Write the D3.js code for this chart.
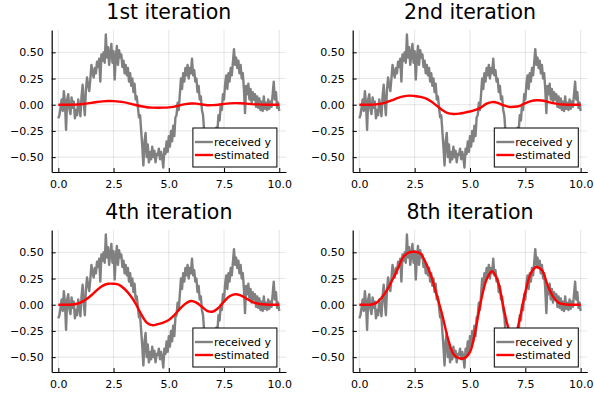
<!DOCTYPE html>
<html><head><meta charset="utf-8">
<script src="https://cdn.jsdelivr.net/npm/d3@7"></script>
<style>body{margin:0;background:#fff}svg{display:block}</style>
</head><body>
<script>
// received (noisy) signal, x = 0..10 step 0.05
const receivedY = [
-0.13,-0.10,-0.03,0.05,-0.06,0.13,0.02,-0.24,0.05,0.10,
-0.04,-0.09,0.07,-0.03,0.03,-0.13,-0.05,-0.10,0.05,-0.02,
-0.11,0.08,0.19,0.02,-0.10,0.15,0.26,0.18,0.13,0.25,
0.38,0.30,0.26,0.35,0.30,0.41,0.36,0.44,0.22,0.48,
0.42,0.50,0.40,0.67,0.45,0.55,0.38,0.48,0.58,0.40,
0.51,0.24,0.45,0.56,0.38,0.52,0.45,0.48,0.36,0.42,
0.30,0.38,0.28,0.35,0.22,0.30,0.18,0.25,0.12,0.20,
0.05,0.08,-0.02,-0.12,-0.10,-0.25,-0.40,-0.58,-0.35,-0.27,
-0.50,-0.38,-0.55,-0.45,-0.52,-0.40,-0.50,-0.44,-0.55,-0.47,
-0.48,-0.42,-0.52,-0.45,-0.50,-0.60,-0.42,-0.47,-0.35,-0.45,
-0.30,-0.40,-0.25,-0.35,-0.20,-0.30,-0.12,-0.10,0.02,-0.05,
0.10,0.25,0.15,0.30,0.22,0.35,0.28,0.38,0.25,0.35,
0.30,0.44,0.28,0.33,0.22,0.25,0.12,0.18,0.05,0.08,
-0.05,-0.10,-0.25,-0.30,-0.38,-0.32,-0.42,-0.35,-0.40,-0.30,
-0.38,-0.28,-0.32,-0.22,-0.25,-0.10,-0.15,0.00,-0.05,0.10,
0.05,0.20,0.28,0.15,0.30,0.22,0.35,0.28,0.40,0.53,
0.38,0.45,0.35,0.42,0.30,0.38,0.25,0.30,0.15,-0.08,
0.18,0.10,0.20,0.05,0.15,0.02,0.12,0.05,0.10,-0.02,
0.08,-0.03,0.06,-0.05,0.03,-0.06,0.08,-0.04,0.02,-0.05,
0.05,-0.04,0.03,-0.02,0.10,0.22,0.05,0.12,-0.03,0.02,
-0.06];
// estimates, x = 0..10 step 0.25
const est1 = [0,0,0,0.001,0.004,0.01,0.018,0.026,0.032,0.035,0.034,0.03,0.022,0.01,-0.003,-0.015,-0.024,-0.028,-0.029,-0.028,-0.025,-0.018,-0.006,0.006,0.012,0.01,0.002,-0.005,-0.004,0,0.008,0.013,0.015,0.014,0.01,0.006,0.003,0.001,0,0,0];
const est2 = [0,0,0,0.003,0.01,0.025,0.045,0.065,0.08,0.087,0.083,0.075,0.06,0.03,-0.01,-0.05,-0.08,-0.088,-0.085,-0.075,-0.065,-0.05,-0.025,0.01,0.025,0.018,-0.005,-0.02,-0.02,-0.01,0.015,0.035,0.043,0.04,0.028,0.015,0.006,0.002,0,0,0];
const est4 = [0,0,0,0.005,0.02,0.05,0.09,0.14,0.18,0.2,0.2,0.19,0.15,0.09,0.01,-0.09,-0.17,-0.195,-0.185,-0.17,-0.145,-0.1,-0.04,0.01,0.035,0.02,-0.02,-0.06,-0.065,-0.03,0.03,0.08,0.1,0.09,0.06,0.03,0.012,0.004,0,0,0];
const est8 = [0,0,0,0.015,0.065,0.14,0.24,0.35,0.46,0.5,0.505,0.49,0.40,0.27,0.09,-0.1,-0.32,-0.47,-0.51,-0.51,-0.45,-0.24,0.04,0.24,0.32,0.23,-0.01,-0.23,-0.32,-0.13,0.12,0.3,0.36,0.33,0.19,0.08,0.02,0.005,0,0,0];
const titles = ["1st iteration","2nd iteration","4th iteration","8th iteration"];
const legendLabels = ["received y","estimated"];
const xTicks = [0,2.5,5,7.5,10];
const yTicks = [-0.5,-0.25,0,0.25,0.5];

const W=594,H=395;
const svg=d3.select("body").append("svg").attr("width",W).attr("height",H)
  .style("font-family","'DejaVu Sans', sans-serif");
const estimates=[est1,est2,est4,est8];
const panels=[{l:51.7,r:285.9,t:30,b:172},{l:352.7,r:587.3,t:30,b:172},
              {l:51.7,r:285.9,t:230,b:372},{l:352.7,r:587.3,t:230,b:372}];
const fmtY=v=>(v<0?"\u2212":"")+Math.abs(v).toFixed(2);
const fmtX=v=>v.toFixed(1);

panels.forEach((p,i)=>{
  const x=d3.scaleLinear().domain([-0.3,10.3]).range([p.l,p.r]);
  const y=d3.scaleLinear().domain([-0.642,0.713]).range([p.b,p.t]);
  const g=svg.append("g");
  // grid
  g.selectAll(".gx").data(xTicks).join("line").attr("x1",d=>x(d)).attr("x2",d=>x(d))
    .attr("y1",p.t).attr("y2",p.b).attr("stroke","#000").attr("stroke-opacity",0.1).attr("stroke-width",1);
  g.selectAll(".gy").data(yTicks).join("line").attr("y1",d=>y(d)).attr("y2",d=>y(d))
    .attr("x1",p.l).attr("x2",p.r).attr("stroke","#000").attr("stroke-opacity",0.1).attr("stroke-width",1);
  // axes
  const ax=g.append("g").attr("transform",`translate(0,${p.b})`)
    .call(d3.axisBottom(x).tickValues(xTicks).tickFormat(fmtX).tickSizeInner(-4).tickSizeOuter(0).tickPadding(8));
  const ay=g.append("g").attr("transform",`translate(${p.l},0)`)
    .call(d3.axisLeft(y).tickValues(yTicks).tickFormat(fmtY).tickSizeInner(-4).tickSizeOuter(0).tickPadding(8));
  [ax,ay].forEach(a=>{
    a.select(".domain").attr("stroke","#000").attr("stroke-width",1.2);
    a.selectAll("text").attr("font-size",11).attr("fill","#000").attr("font-family","'DejaVu Sans', sans-serif");
    a.selectAll(".tick line").attr("stroke","#000");
  });
  // clip
  const cid="clip"+i;
  svg.append("clipPath").attr("id",cid).append("rect").attr("x",p.l).attr("y",p.t).attr("width",p.r-p.l).attr("height",p.b-p.t);
  const pg=g.append("g").attr("clip-path",`url(#${cid})`);
  const line=d3.line().x(d=>x(d[0])).y(d=>y(d[1]));
  pg.append("path").datum(receivedY.map((v,k)=>[k*0.05,v])).attr("d",line)
    .attr("fill","none").attr("stroke","#808080").attr("stroke-width",2.4).attr("stroke-linejoin","round");
  const sline=d3.line().x(d=>x(d[0])).y(d=>y(d[1])).curve(d3.curveCatmullRom);
  pg.append("path").datum(estimates[i].map((v,k)=>[k*0.25,v])).attr("d",sline)
    .attr("fill","none").attr("stroke","#ff0000").attr("stroke-width",2.4);
  // title
  svg.append("text").attr("x",(p.l+p.r)/2).attr("y",p.t-11).attr("text-anchor","middle")
    .attr("font-size",20.5).attr("fill","#000").text(titles[i]);
  // legend
  const lx=p.r-93, ly=p.b-44, lw=84, lh=39;
  const lg=svg.append("g");
  lg.append("rect").attr("x",lx).attr("y",ly).attr("width",lw).attr("height",lh)
    .attr("fill","#fff").attr("stroke","#000").attr("stroke-width",1);
  const cols=["#808080","#ff0000"];
  legendLabels.forEach((t,k)=>{
    const yy=ly+14+k*13;
    lg.append("line").attr("x1",lx+2).attr("x2",lx+20).attr("y1",yy).attr("y2",yy)
      .attr("stroke",cols[k]).attr("stroke-width",2.4);
    lg.append("text").attr("x",lx+21).attr("y",yy+4).attr("font-size",11).attr("fill","#000").text(t);
  });
});
</script>
</body></html>
